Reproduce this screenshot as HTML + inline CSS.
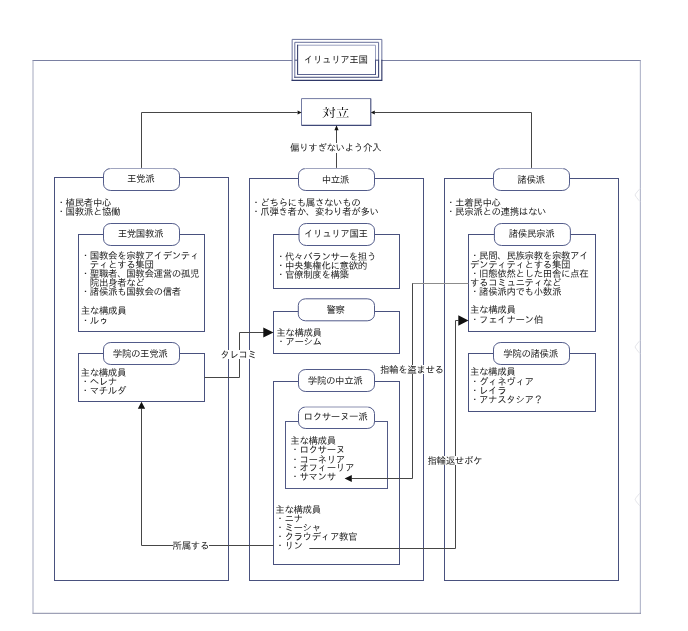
<!DOCTYPE html>
<html lang="ja"><head><meta charset="utf-8"><title>イリュリア王国</title>
<style>
html,body{margin:0;padding:0;background:#fff}
body{width:688px;height:631px;position:relative;overflow:hidden;font-family:"Liberation Sans","IPAGothic","Noto Sans CJK JP",sans-serif;color:#222}
svg{position:absolute;left:0;top:0}
#txt{position:absolute;left:0;top:0;width:688px;height:631px;will-change:transform}
.ln{position:absolute;font-size:9.5px;letter-spacing:-0.40px;line-height:9px;height:9px;white-space:nowrap}
.pl{position:absolute;width:120px;height:12px;line-height:12px;text-align:center;font-size:9.5px;letter-spacing:-0.40px;text-indent:-0.40px;white-space:nowrap}
.wl{position:absolute;width:120px;height:9.5px;line-height:9.5px;text-align:center;font-size:9.5px;letter-spacing:-0.40px;white-space:nowrap}
.wl span{background:#fff;display:inline-block;height:9.5px}
.big{position:absolute;left:275.8px;top:102.3px;width:120px;height:24px;line-height:24px;text-align:center;font-size:13.6px;transform:scaleY(0.87);transform-origin:50% 50%;font-family:"Liberation Serif","Noto Serif CJK JP","Noto Serif CJK SC",serif;color:#000}
</style></head><body>
<svg width="688" height="631" viewBox="0 0 688 631" shape-rendering="geometricPrecision">
<path d="M32.5 60.5H641" stroke="#7a80a2" stroke-width="1" fill="none"/>
<path d="M640.4 60.5V613.5" stroke="#b6bacd" stroke-width="1.2" fill="none"/>
<path d="M640 188.7Q635 194 635.2 195Q635.4 196.5 640 201.5M640 340.5Q635 346 635.2 347Q635.4 348.5 640 353.5M640 493Q635 498.5 635.2 499.5Q635.4 501 640 506" stroke="#e4e5ea" stroke-width="1" fill="none"/>
<path d="M32.5 613.3H641" stroke="#868aa4" stroke-width="1" fill="none"/>
<path d="M33 60.5V613.5" stroke="#a4a8be" stroke-width="1" fill="none"/>
<rect x="292.15" y="39.4" width="89.7" height="40.8" fill="#fff" stroke="none"/>
<path d="M381.85 60.2V39.4H292.15V80.4" stroke="#6a729c" stroke-width="1" fill="none" stroke-linecap="square"/>
<path d="M292.15 80.4H381.85V60.2" stroke="#2f3868" stroke-width="1.15" fill="none" stroke-linecap="square"/>
<path d="M378.6 60.2V42.3H294.8V77.3" stroke="#68709a" stroke-width="1" fill="none" stroke-linecap="square"/>
<path d="M294.8 77.3H378.6V60.2" stroke="#3d4676" stroke-width="1.1" fill="none" stroke-linecap="square"/>
<path d="M375.5 60.2V45.2H297.6" stroke="#9aa0c0" stroke-width="1" fill="none" stroke-linecap="square"/>
<path d="M297.6 45.2V74.5" stroke="#39426f" stroke-width="1.1" fill="none" stroke-linecap="square"/>
<path d="M297.6 74.5H375.5" stroke="#5d6592" stroke-width="1" fill="none" stroke-linecap="square"/>
<path d="M375.5 74.5V60.2" stroke="#4a5282" stroke-width="1" fill="none" stroke-linecap="square"/>
<path d="M294.8 60.2H297.6M375.5 60.2H378.6" stroke="#49517e" stroke-width="1" fill="none"/>
<path d="M370.8 98.6H301.5V125.4" stroke="#737ba3" stroke-width="1" fill="none"/>
<path d="M301.5 125.4H370.8V98.6" stroke="#3f4878" stroke-width="1.1" fill="none"/>
<rect x="54.5" y="177.5" width="174.0" height="403.0" fill="none" stroke="#49517e" stroke-width="1"/>
<rect x="249.5" y="178.5" width="174.0" height="402.0" fill="none" stroke="#49517e" stroke-width="1"/>
<rect x="444.5" y="178.5" width="174.0" height="402.0" fill="none" stroke="#49517e" stroke-width="1"/>
<rect x="78.5" y="234.5" width="126.0" height="97.0" fill="none" stroke="#49517e" stroke-width="1"/>
<rect x="78.5" y="353.5" width="126.0" height="48.0" fill="none" stroke="#49517e" stroke-width="1"/>
<rect x="273.5" y="234.5" width="126.0" height="54.0" fill="none" stroke="#49517e" stroke-width="1"/>
<rect x="273.5" y="311.5" width="126.0" height="42.0" fill="none" stroke="#49517e" stroke-width="1"/>
<rect x="273.5" y="381.5" width="126.0" height="183.0" fill="none" stroke="#49517e" stroke-width="1"/>
<rect x="285.5" y="421.5" width="102.0" height="67.0" fill="none" stroke="#525a86" stroke-width="1"/>
<rect x="468.5" y="234.5" width="127.0" height="97.0" fill="none" stroke="#49517e" stroke-width="1"/>
<rect x="468.5" y="353.5" width="127.0" height="58.0" fill="none" stroke="#49517e" stroke-width="1"/>
<path d="M468.5 283.5H412" fill="none" stroke="#8c8c8c" stroke-width="1"/>
<path d="M141.5 168.5V112.5H297.5 M531.5 168.5V112.5H374.7 M336.5 168.5V130 M204.5 377.5H239.5V332.5H264 M273.5 545.5H141.5V408.5 M412.5 283.5V478.5H351.5 M309.3 548.5H455.5V320.5H458.5" fill="none" stroke="#464646" stroke-width="1"/>
<path d="M301.6 112.5L297.6 110.5V114.5Z M370.8 112.5L374.8 110.5V114.5Z M336.5 125.3L334.4 130.3H338.6Z M273.5 332.5L263.3 327.4V337.6Z M141.5 401.7L137.8 408.7H145.2Z M344.6 478.5L351.8 474.9V482.1Z M468.5 320.5L458.3 315.3V325.7Z" fill="#111" stroke="none"/>
<rect x="103.5" y="168.5" width="76" height="22" rx="7.3" ry="6.6" fill="#fff" stroke="#525b8a" stroke-width="1"/>
<rect x="103.5" y="223.5" width="76" height="22" rx="7.3" ry="6.6" fill="#fff" stroke="#525b8a" stroke-width="1"/>
<rect x="103.5" y="342.5" width="76" height="22" rx="7.3" ry="6.6" fill="#fff" stroke="#525b8a" stroke-width="1"/>
<rect x="298.5" y="168.5" width="76" height="22" rx="7.3" ry="6.6" fill="#fff" stroke="#525b8a" stroke-width="1"/>
<rect x="299" y="223.5" width="75.5" height="22" rx="7.3" ry="6.6" fill="#fff" stroke="#525b8a" stroke-width="1"/>
<rect x="298.3" y="298.8" width="76.2" height="22" rx="7.3" ry="6.6" fill="#fff" stroke="#525b8a" stroke-width="1"/>
<rect x="298.5" y="369.5" width="76" height="22" rx="7.3" ry="6.6" fill="#fff" stroke="#525b8a" stroke-width="1"/>
<rect x="298.5" y="407" width="76" height="21.5" rx="7.3" ry="6.6" fill="#fff" stroke="#525b8a" stroke-width="1"/>
<rect x="493.5" y="168.5" width="76" height="22" rx="7.3" ry="6.6" fill="#fff" stroke="#525b8a" stroke-width="1"/>
<rect x="494.4" y="223.5" width="76" height="22" rx="7.3" ry="6.6" fill="#fff" stroke="#525b8a" stroke-width="1"/>
<rect x="493.5" y="342.5" width="76" height="22" rx="7.3" ry="6.6" fill="#fff" stroke="#525b8a" stroke-width="1"/>
<path d="M109.5 168.5H173.5" stroke="#fff" stroke-opacity="0.45" stroke-width="1.4" fill="none"/>
<path d="M304.5 168.5H368.5" stroke="#fff" stroke-opacity="0.45" stroke-width="1.4" fill="none"/>
<path d="M499.5 168.5H563.5" stroke="#fff" stroke-opacity="0.45" stroke-width="1.4" fill="none"/>
<path d="M304.5 407H368.5" stroke="#fff" stroke-opacity="0.45" stroke-width="1.4" fill="none"/>
</svg>
<div id="txt">
<div class="big">対立</div>
<div class="pl" style="left:80.80000000000001px;top:173.4px">王党派</div>
<div class="pl" style="left:80.6px;top:228.2px">王党国教派</div>
<div class="pl" style="left:80.30000000000001px;top:348.2px">学院の王党派</div>
<div class="pl" style="left:275.5px;top:174.4px">中立派</div>
<div class="pl" style="left:276.0px;top:228.2px">イリュリア国王</div>
<div class="pl" style="left:275.7px;top:303.8px">警察</div>
<div class="pl" style="left:275.3px;top:375.3px">学院の中立派</div>
<div class="pl" style="left:275.6px;top:411.4px">ロクサーヌ一派</div>
<div class="pl" style="left:471.20000000000005px;top:174.4px">諸侯派</div>
<div class="pl" style="left:471.70000000000005px;top:228.2px">諸侯民宗派</div>
<div class="pl" style="left:470.70000000000005px;top:348.2px">学院の諸侯派</div>
<div class="pl" style="left:275.9px;top:53.7px">イリュリア王国</div>
<div class="wl" style="left:275.6px;top:143.25px"><span>偏りすぎないよう介入</span></div>
<div class="wl" style="left:178.5px;top:349.55px"><span>タレコミ</span></div>
<div class="wl" style="left:130.8px;top:540.65px"><span>所属する</span></div>
<div class="wl" style="left:351.8px;top:364.75px"><span>指輪を盗ませる</span></div>
<div class="wl" style="left:394.8px;top:455.75px"><span>指輪返せボケ</span></div>
<div class="ln" style="left:56.50px;top:198px">・植民者中心</div>
<div class="ln" style="left:56.50px;top:207px">・国教派と協働</div>
<div class="ln" style="left:80.75px;top:251px">・国教会を宗教アイデンティ</div>
<div class="ln" style="left:89.85px;top:260px">ティとする集団</div>
<div class="ln" style="left:80.75px;top:269px">・聖職者、国教会運営の孤児</div>
<div class="ln" style="left:89.85px;top:278px">院出身者など</div>
<div class="ln" style="left:80.75px;top:287px">・諸侯派も国教会の信者</div>
<div class="ln" style="left:80.75px;top:306px">主な構成員</div>
<div class="ln" style="left:80.75px;top:316px">・ルゥ</div>
<div class="ln" style="left:80.55px;top:368px">主な構成員</div>
<div class="ln" style="left:80.55px;top:377px">・ヘレナ</div>
<div class="ln" style="left:80.55px;top:386px">・マチルダ</div>
<div class="ln" style="left:251.20px;top:198px">・どちらにも属さないもの</div>
<div class="ln" style="left:251.20px;top:207px">・爪弾き者か、変わり者が多い</div>
<div class="ln" style="left:275.90px;top:252px">・代々バランサーを担う</div>
<div class="ln" style="left:275.90px;top:261px">・中央集権化に意欲的</div>
<div class="ln" style="left:275.90px;top:270px">・官僚制度を構築</div>
<div class="ln" style="left:276.20px;top:328px">主な構成員</div>
<div class="ln" style="left:276.20px;top:337px">・アーシム</div>
<div class="ln" style="left:290.30px;top:436px">主な構成員</div>
<div class="ln" style="left:290.30px;top:445px">・ロクサーヌ</div>
<div class="ln" style="left:290.30px;top:455px">・コーネリア</div>
<div class="ln" style="left:290.30px;top:463px">・オフィーリア</div>
<div class="ln" style="left:290.30px;top:472px">・サマンサ</div>
<div class="ln" style="left:275.30px;top:505px">主な構成員</div>
<div class="ln" style="left:275.30px;top:514px">・ニナ</div>
<div class="ln" style="left:275.30px;top:523px">・ミーシャ</div>
<div class="ln" style="left:275.30px;top:532px">・クラウディア教官</div>
<div class="ln" style="left:275.30px;top:541px">・リン</div>
<div class="ln" style="left:446.00px;top:198px">・土着民中心</div>
<div class="ln" style="left:446.00px;top:207px">・民宗派との連携はない</div>
<div class="ln" style="left:470.00px;top:251px">・民間、民族宗教を宗教アイ</div>
<div class="ln" style="left:470.00px;top:260px">デンティティとする集団</div>
<div class="ln" style="left:470.00px;top:269px">・旧態依然とした田舎に点在</div>
<div class="ln" style="left:470.00px;top:278px">するコミュニティなど</div>
<div class="ln" style="left:470.00px;top:287px">・諸侯派内でも小数派</div>
<div class="ln" style="left:470.00px;top:305px">主な構成員</div>
<div class="ln" style="left:470.00px;top:315px">・フェイナーン伯</div>
<div class="ln" style="left:469.90px;top:367px">主な構成員</div>
<div class="ln" style="left:469.90px;top:377px">・グィネヴィア</div>
<div class="ln" style="left:469.90px;top:386px">・レイラ</div>
<div class="ln" style="left:469.90px;top:395px">・アナスタシア？</div>
</div>
</body></html>
